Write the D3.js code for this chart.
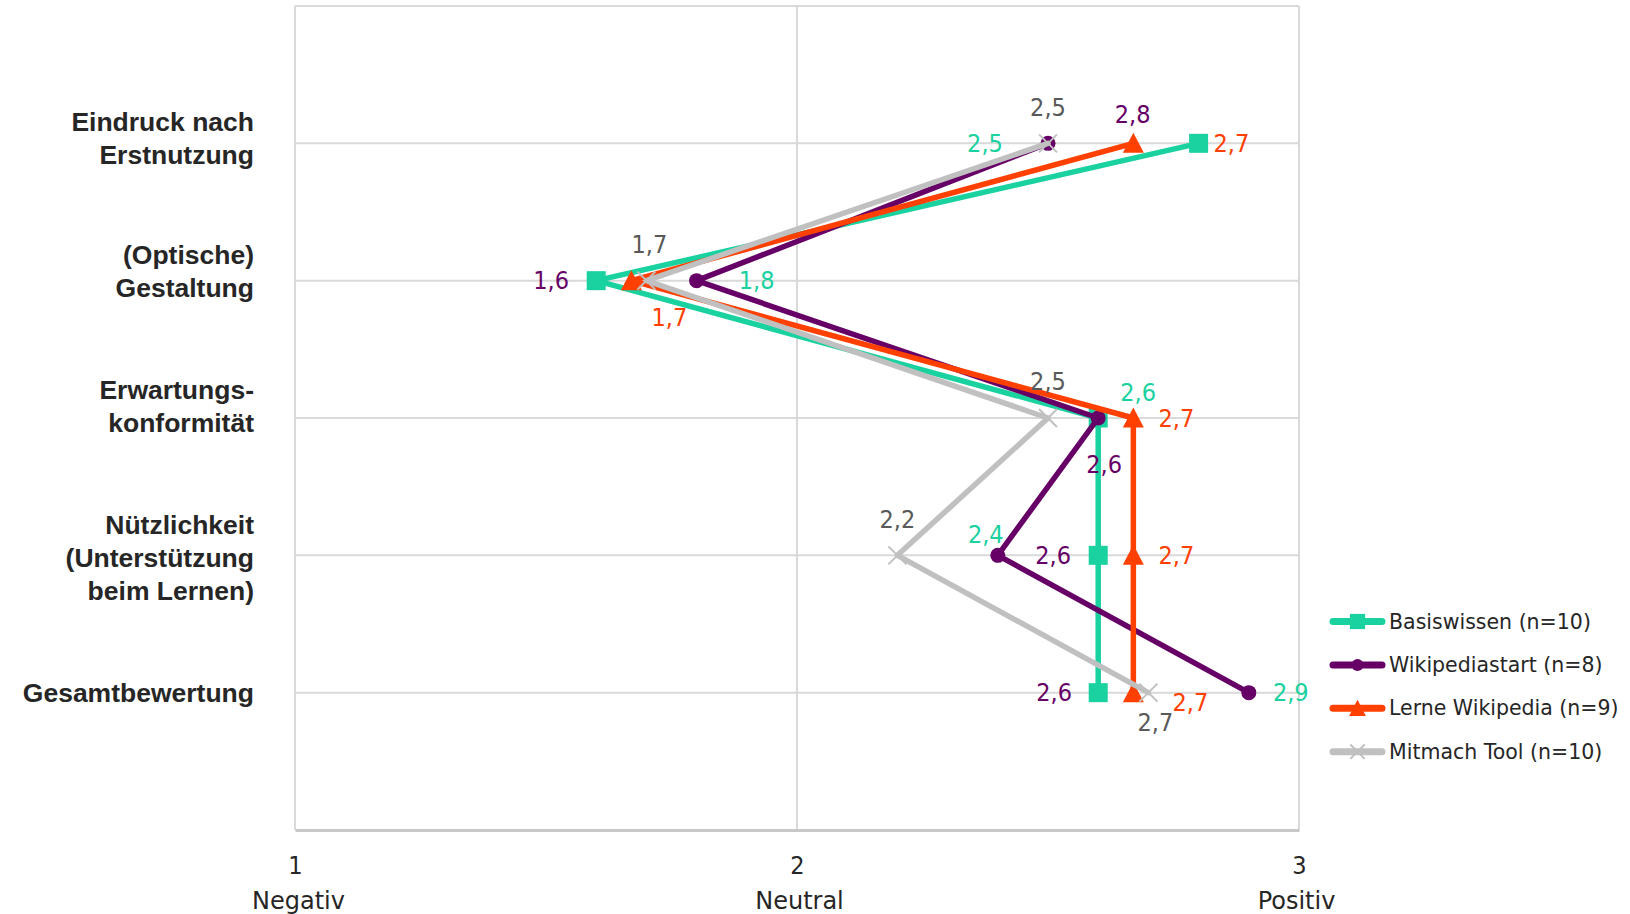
<!DOCTYPE html>
<html>
<head>
<meta charset="utf-8">
<script src="https://cdn.jsdelivr.net/npm/d3@7"></script>
<style>
  html, body { margin: 0; padding: 0; background: #ffffff; }
  svg { display: block; }
</style>
</head>
<body>
<svg id="chart" width="1630" height="914"></svg>
<script>
// ---------- DATA ----------
const categories = [
  "Eindruck nach\nErstnutzung",
  "(Optische)\nGestaltung",
  "Erwartungs-\nkonformität",
  "Nützlichkeit\n(Unterstützung\nbeim Lernen)",
  "Gesamtbewertung"
];
const seriesNames = ["Basiswissen (n=10)", "Wikipediastart (n=8)", "Lerne Wikipedia (n=9)", "Mitmach Tool (n=10)"];
const basiswissen    = [2.8, 1.6, 2.6, 2.6, 2.6];
const wikipediastart = [2.5, 1.8, 2.6, 2.4, 2.9];
const lerneWikipedia = [2.67, 1.67, 2.67, 2.67, 2.67];
const mitmachTool    = [2.5, 1.7, 2.5, 2.2, 2.7];
const xTickValues = [1, 2, 3];
const xTickLabels = ["Negativ", "Neutral", "Positiv"];

// ---------- STYLE / LAYOUT ----------
const seriesStyle = [
  { values: basiswissen,    color: "#1ad1a0", labelColor: "#660066", marker: "square" },
  { values: wikipediastart, color: "#660066", labelColor: "#1ad1a0", marker: "circle" },
  { values: lerneWikipedia, color: "#ff4000", labelColor: "#ff4000", marker: "triangle" },
  { values: mitmachTool,    color: "#c0c0c0", labelColor: "#595959", marker: "cross" }
];
// label offsets (px) relative to each point
const labelOffsets = [
  [[-66, -29], [-45, 0], [6, 46], [-45, 0], [-44, 0]],
  [[-63, 0], [60, 0], [40, -26], [-12, -21], [42, 0]],
  [[98, 0], [38, 37], [43, 0], [43, 0], [57, 10]],
  [[0, -36], [3, -36], [0, -37], [0, -36], [7, 30]]
];
// vertical nudges of category labels (px)
const catLabelNudge = [-5, -9, -12, 2, 0];

const plot = { left: 295, right: 1299, top: 6, bottom: 830 };
const svg = d3.select("#chart");

const x = d3.scaleLinear().domain([1, 3]).range([plot.left, plot.right]);
const y = d3.scalePoint().domain(categories).range([plot.top, plot.bottom]).padding(1);

const gridColor = "#d9d9d9";
const textDark = "#262626";

// grid: horizontal lines at categories
svg.append("g").selectAll("line").data(categories).join("line")
  .attr("x1", plot.left).attr("x2", plot.right)
  .attr("y1", d => y(d)).attr("y2", d => y(d))
  .attr("stroke", gridColor).attr("stroke-width", 2);

// top frame line
svg.append("line")
  .attr("x1", plot.left).attr("x2", plot.right)
  .attr("y1", plot.top).attr("y2", plot.top)
  .attr("stroke", gridColor).attr("stroke-width", 2);

// vertical grid at ticks
svg.append("g").selectAll("line").data(xTickValues).join("line")
  .attr("x1", d => x(d)).attr("x2", d => x(d))
  .attr("y1", plot.top).attr("y2", plot.bottom)
  .attr("stroke", gridColor).attr("stroke-width", 2);

// bottom axis
const axis = d3.axisBottom(x).tickValues(xTickValues).tickSize(0).tickPadding(0)
  .tickFormat(d3.format("d"));
const gAxis = svg.append("g").attr("transform", `translate(0,${plot.bottom})`).call(axis);
gAxis.select(".domain").attr("stroke", "#c8c8c8").attr("stroke-width", 3);
gAxis.selectAll(".tick text")
  .attr("y", 35).attr("dy", "0.35em")
  .attr("font-family", "'DejaVu Sans Condensed', 'DejaVu Sans', sans-serif")
  .attr("font-size", 25).attr("fill", textDark);
gAxis.selectAll(".tick").append("text")
  .attr("y", 71).attr("dy", "0.35em")
  .attr("x", (d, i) => [3, 2, -3][i])
  .attr("text-anchor", "middle")
  .attr("font-family", "'DejaVu Sans', sans-serif")
  .attr("font-size", 24).attr("fill", textDark)
  .text((d, i) => xTickLabels[i]);

// category labels
const catLH = 33;
svg.append("g").selectAll("text").data(categories).join("text")
  .attr("text-anchor", "end")
  .attr("font-family", "'Liberation Sans', Arial, sans-serif")
  .attr("font-weight", "bold")
  .attr("font-size", 26.5)
  .attr("fill", textDark)
  .each(function (d, ci) {
    const lines = d.split("\n");
    const t = d3.select(this);
    lines.forEach((ln, i) => {
      t.append("tspan")
        .attr("x", 254)
        .attr("y", y(d) + catLabelNudge[ci] + (i - (lines.length - 1) / 2) * catLH)
        .attr("dy", "0.35em")
        .text(ln);
    });
  });

// marker drawing
function drawMarker(g, type, color, cx, cy, scale) {
  scale = scale || 1;
  if (type === "square") {
    const s = 19 * scale;
    g.append("rect").attr("x", cx - s / 2).attr("y", cy - s / 2)
      .attr("width", s).attr("height", s).attr("fill", color);
  } else if (type === "circle") {
    g.append("circle").attr("cx", cx).attr("cy", cy).attr("r", 7.5 * scale).attr("fill", color);
  } else if (type === "triangle") {
    const w = 21 * scale, h = 19 * scale;
    g.append("path")
      .attr("d", `M${cx},${cy - h / 2 - 1}L${cx + w / 2},${cy + h / 2}L${cx - w / 2},${cy + h / 2}Z`)
      .attr("fill", color);
  } else if (type === "cross") {
    const s = 9 * scale;
    g.append("path")
      .attr("d", `M${cx - s},${cy - s}L${cx + s},${cy + s}M${cx - s},${cy + s}L${cx + s},${cy - s}`)
      .attr("stroke", color).attr("stroke-width", 2).attr("fill", "none");
  }
}

const line = d3.line().x(d => x(d.v)).y(d => y(d.c));
const fmt = v => d3.format(".1f")(v).replace(".", ",");

seriesStyle.forEach((s, si) => {
  const pts = s.values.map((v, i) => ({ v, c: categories[i] }));
  const g = svg.append("g");
  g.append("path").datum(pts)
    .attr("d", line)
    .attr("fill", "none")
    .attr("stroke", s.color)
    .attr("stroke-width", 5.5)
    .attr("stroke-linejoin", "round")
    .attr("stroke-linecap", "round");
  pts.forEach(p => drawMarker(g, s.marker, s.color, x(p.v), y(p.c)));
});

// data labels (drawn on top)
seriesStyle.forEach((s, si) => {
  svg.append("g").selectAll("text").data(s.values).join("text")
    .attr("x", (v, i) => x(v) + labelOffsets[si][i][0])
    .attr("y", (v, i) => y(categories[i]) + labelOffsets[si][i][1])
    .attr("dy", "0.35em")
    .attr("text-anchor", "middle")
    .attr("font-family", "'DejaVu Sans Condensed', 'DejaVu Sans', sans-serif")
    .attr("font-size", 25)
    .attr("fill", s.labelColor)
    .text(v => fmt(v));
});

// legend
const legendY0 = 621.5, legendStep = 43.4;
const lg = svg.append("g");
seriesStyle.forEach((s, i) => {
  const ly = legendY0 + i * legendStep;
  lg.append("line").attr("x1", 1333).attr("x2", 1382).attr("y1", ly).attr("y2", ly)
    .attr("stroke", s.color).attr("stroke-width", 7).attr("stroke-linecap", "round");
  drawMarker(lg, s.marker, s.color, 1357.5, ly, 0.8);
  lg.append("text").attr("x", 1389).attr("y", ly).attr("dy", "0.35em")
    .attr("font-family", "'DejaVu Sans', sans-serif")
    .attr("font-size", 20.5).attr("fill", textDark)
    .text(seriesNames[i]);
});
</script>
</body>
</html>
